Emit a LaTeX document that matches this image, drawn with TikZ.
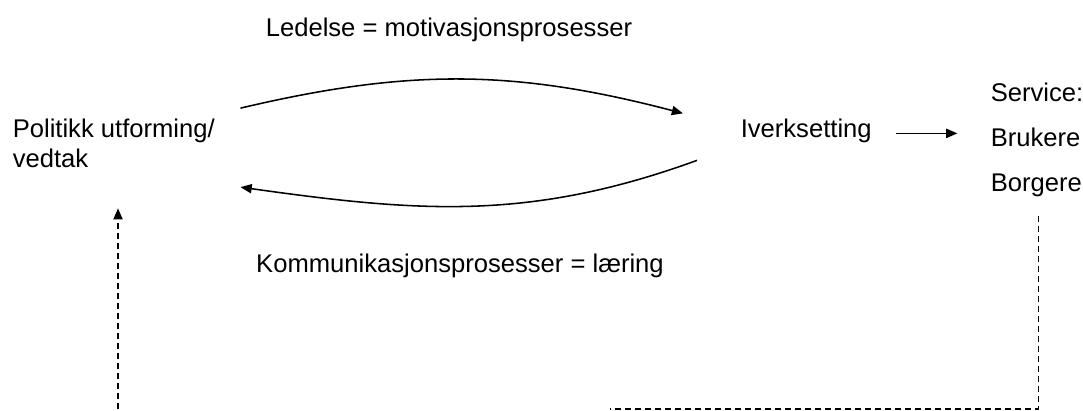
\documentclass[tikz,border=0pt]{standalone}
\usepackage{fontspec}
\setmainfont{Liberation Sans}
\usetikzlibrary{arrows.meta,calc}

\begin{document}
\begin{tikzpicture}[x=0.025cm,y=-0.025cm,>={Triangle[length=2.8mm,width=2.3mm]},line width=1.1pt,
        every node/.style={font=\fontsize{18.2}{21.3}\selectfont,inner sep=0pt},
        fb/.style={dash pattern=on 1.5mm off 1mm,line width=1.1pt}]
        \useasboundingbox (0,0) rectangle (1083,411);
        \node[anchor=north west,align=left] (pol) at (12,118) {Politikk utforming/\\vedtak};
        \node[anchor=base west] (iver) at (740,138) {Iverksetting};
        \node[anchor=base west] (ser) at (990,102) {Service:};
        \node[anchor=base west] (bru) at (990,147) {Brukere};
        \node[anchor=base west] (bor) at (990,192) {Borgere};
        \node[anchor=base] (led) at (449,37) {Ledelse = motivasjonsprosesser};
        \node[anchor=base] (kom) at (460,273) {Kommunikasjonsprosesser = læring};
        % styring og tilbakemelding
        \draw[->] ($(pol.east)+(25,-35)$) to[bend left=14] ($(iver.west)+(-57,-18)$);
        \draw[->] ($(iver.west)+(-43,29)$) to[out=-160,in=-8] ($(pol.east)+(25,44)$);
        \draw[->] ($(iver.east)+(24,2)$) -- ($(iver.east)+(85,2)$);
        % erfaringer tilbake
        \coordinate (fbend) at (610,409);
        \coordinate (fbstart) at (118,409);
        \coordinate (fbtip) at ($(pol.south)+(0,40)$);
        \draw[fb] ($(bor.south)+(2,18)$) |- (fbend);
        \draw[fb,->] (fbstart) -- (fbstart |- fbtip);
\end{tikzpicture}
\end{document}
